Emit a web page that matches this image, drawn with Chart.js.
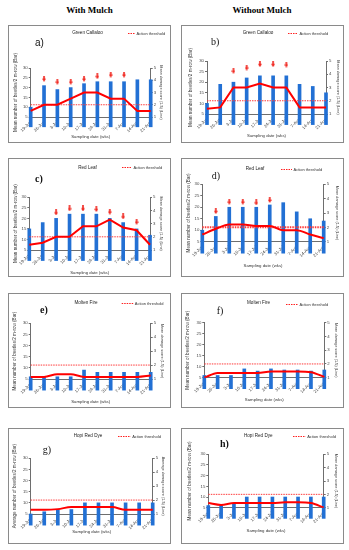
<!DOCTYPE html>
<html><head><meta charset="utf-8">
<script src="https://cdn.jsdelivr.net/npm/chart.js@4"></script>
<style>
body{margin:0;background:#fff;width:349px;height:550px;position:relative;overflow:hidden;}
.hdr{position:absolute;top:5px;width:110px;text-align:center;font:bold 9px "Liberation Serif",serif;line-height:10px;color:#000;}
.box{position:absolute;box-sizing:border-box;border:1px solid #8a8a8a;pointer-events:none;}
canvas{position:absolute;}
</style></head><body>
<div class="hdr" style="left:34.5px">With Mulch</div>
<div class="hdr" style="left:207px">Without Mulch</div>
<script>
// ---------- DATA ----------
const categories = ['19-Jun','26-Jun','3-Jul','10-Jul','17-Jul','24-Jul','31-Jul','7-Aug','14-Aug','21-Aug'];
const leftTicks = [5, 30, 5];   // min, max, step (beetles)
const rightTicks = [1, 5, 1];   // min, max, step (damage score)
const actionThreshold = 2;

// Mean number of beetles / 2 m-row (bars)
const beetlesA = [10,21,19,20,22,23,23,23,24,24];
const beetlesB = [10,19,20,22,23,23,23,19,18,15];
const beetlesC = [15,18,20,22,22,22,20,18,15,12];
const beetlesD = [10,16,20,20,20,21,22,18,15,14];
const beetlesE = [6,6,6,6,9,8,8,8,8,8];
const beetlesF = [6,6,6,9,8,9,8.5,8.5,8,8.5];
const beetlesG = [5,6,7,7,10,10,10,10,10,10];
const beetlesH = [6,6,7,10,10,10,10,10,10,10];

// Mean damage score 1-5 (lines)
const damageA = [1.5,2,2,2.5,3,3,2.5,2.5,1.5,1.5];
const damageB = [1.4,1.5,3,3,3.3,3,3,1.5,1.5,1.5];
const damageC = [1.4,1.55,2,2,2.8,2.8,3.3,2.7,2.5,1.4];
const damageD = [1.5,1.9,2.2,2.2,2.1,2.1,1.8,1.8,1.5,1.25];
const damageE = [1.15,1.15,1.35,1.35,1.15,1.15,1.15,1.15,1.15,1.25];
const damageF = [1.0,1.35,1.35,1.35,1.35,1.45,1.45,1.45,1.4,1.05];
const damageG = [1.3,1.3,1.35,1.5,1.5,1.5,1.5,1.3,1.3,1.3];
const damageH = [1.35,1.2,1.35,1.35,1.35,1.35,1.4,1.4,1.35,1.0];

// Red arrow markers (beetle-axis units)
const arrowsA = [null,24.5,23,23,24.5,25.8,26.6,26.6,null,null];
const arrowsB = [null,null,25.4,26.9,28.5,28.5,28.3,null,null,null];
const arrowsC = [null,null,22.8,24.7,24.7,24.4,23.2,20.9,18.4,null];
const arrowsD = [null,18.3,22.4,22.4,22.1,23.2,null,null,null,null];
const arrowsNone = [null,null,null,null,null,null,null,null,null,null];

const panelTitles = ['Green Callaloo','Green Callaloo','Red Leaf','Red Leaf','Molten Fire','Molten Fire','Hopi Red Dye','Hopi Red Dye'];
const panelLetters = ['a)','b)','c)','d)','e)','f)','g)','h)'];
const leftTitles = ['Mean number of beetles/2 m-row (Bar)','Mean number of beetles/2 m-row (Bar)','Mean number of beetles/2 m-row (Bar)','Mean number of beetles/2 m-row (Bar)','Mean number of beetles/2 m-row (Bar)','Mean number of beetles/2 m-row (Bar)','Average number of beetles/2 m-row (Bar)','Mean number of beetles/2 m-row (Bar)'];
const rightTitles = ['Mean damage score (1-5) (Line)','Mean damage score (1-5) (Line)','Mean damage score (1-5) (Line)','Mean damage score (1-5) (Line)','Mean damage score (1-5) (Line)','Mean damage score (1-5) (Line)','Average damage score (1-5) (Line)','Mean damage score (1-5) (Line)'];
const xTitle = 'Sampling date (wks)';
const legendLabel = 'Action threshold';

const beetles = [beetlesA,beetlesB,beetlesC,beetlesD,beetlesE,beetlesF,beetlesG,beetlesH];
const damage = [damageA,damageB,damageC,damageD,damageE,damageF,damageG,damageH];
const arrows = [arrowsA,arrowsB,arrowsC,arrowsD,arrowsNone,arrowsNone,arrowsNone,arrowsNone];

// ---------- LAYOUT (page px) ----------
const layouts = [
 {box:[8,25,163,118],  plot:[30.7,150.7,68,117],   lt:7.5, rt:10,  xt:6.3, title:[79.5,8],  leg:[120,127,8],    letter:[27,18],   lf:'10px "Liberation Sans"', smooth:false},
 {box:[181,25,163,118],plot:[207,326,61,114],      lt:9.7, rt:5.7, xt:7,   title:[77,8],    leg:[107,117,8],    letter:[30,17.5], lf:'10px "Liberation Serif"', smooth:false},
 {box:[8,158,163,119], plot:[29.3,150,197.3,250],  lt:7.7, rt:10,  xt:3.7, title:[79.5,9.3],leg:[114,124,9.3],  letter:[27,21.5], lf:'bold 10px "Liberation Serif"', smooth:false},
 {box:[181,158,163,119],plot:[202.3,323.7,184.3,241.7],lt:7.3,rt:7,xt:11,  title:[74,10.7], leg:[100,111,11],   letter:[30.7,18.7],lf:'10px "Liberation Serif"', smooth:true},
 {box:[8,293,163,115], plot:[30.7,150.7,323.3,379],lt:7,  rt:9,   xt:6,   title:[78,9.7],  leg:[113.7,125.3,9.7],letter:[32,17.7],lf:'bold 10px "Liberation Serif"', smooth:true},
 {box:[181,293,163,115],plot:[204.3,324.3,322.7,377.7],lt:6.7,rt:7.7,xt:8,title:[77.5,9.7],leg:[105,117,11.3], letter:[35.7,18], lf:'10px "Liberation Serif"', smooth:true},
 {box:[8,428,163,116], plot:[30.7,152.7,458.3,514],lt:6.3, rt:8,   xt:11.7,title:[80,7.7],  leg:[110,122.7,7.7],letter:[34.7,22], lf:'10px "Liberation Serif"', smooth:true},
 {box:[181,428,163,116],plot:[208.3,323.7,454.3,507.7],lt:9,rt:7.7,xt:13,  title:[77.3,7.7],leg:[112,124.7,7.7],letter:[39,16.7], lf:'bold 10px "Liberation Serif"', smooth:true}
];

Chart.defaults.font.family = '"Liberation Sans", Arial, sans-serif';

function makeArrow(){
  const c = document.createElement('canvas'); c.width = 4; c.height = 6;
  const g = c.getContext('2d'); g.fillStyle = '#f0251d';
  g.fillRect(1.2,0,1.6,3.2);
  g.beginPath(); g.moveTo(0,2.8); g.lineTo(4,2.8); g.lineTo(2,6); g.closePath(); g.fill();
  return c;
}
const arrowImg = makeArrow();

const annot = {
  id:'annot',
  afterDraw(chart, args, o){
    const ctx = chart.ctx; ctx.save();
    ctx.textBaseline = 'middle';
    ctx.fillStyle = '#222';
    ctx.font = '4.6px "Liberation Sans"'; ctx.textAlign = 'center';
    ctx.fillText(o.title, o.title_xy[0], o.title_xy[1]);
    const ly = Math.round(o.leg[2]) + 0.5;
    ctx.strokeStyle = '#ff2020'; ctx.lineWidth = 1; ctx.setLineDash([1.5,1]);
    ctx.beginPath(); ctx.moveTo(o.leg[0], ly); ctx.lineTo(o.leg[1], ly); ctx.stroke();
    ctx.setLineDash([]);
    ctx.font = '4px "Liberation Sans"'; ctx.textAlign = 'left'; ctx.fillStyle = '#333';
    ctx.fillText(chart.data.datasets[1].label, o.leg[1] + 1.5, ly);
    ctx.font = o.lf; ctx.fillStyle = '#111';
    ctx.fillText(o.letter, o.letter_xy[0], o.letter_xy[1]);
    ctx.restore();
  }
};

layouts.forEach((L, i) => {
  const [bx, by, bw, bh] = L.box;
  const [pl, pr, pt, pb] = L.plot;
  const cv = document.createElement('canvas');
  cv.width = bw; cv.height = bh;
  cv.style.left = bx + 'px'; cv.style.top = by + 'px';
  cv.style.width = bw + 'px'; cv.style.height = bh + 'px';
  document.body.appendChild(cv);
  const bd = document.createElement('div'); bd.className = 'box';
  bd.style.left = bx + 'px'; bd.style.top = by + 'px'; bd.style.width = bw + 'px'; bd.style.height = bh + 'px';
  document.body.appendChild(bd);

  const wL = pl - bx, wR = bx + bw - pr, hX = by + bh - pb, padTop = pt - by;
  const axisCol = '#6e6e6e';
  const tickFont = {size: 4.3};
  new Chart(cv, {
    type: 'bar',
    plugins: [annot],
    data: {
      labels: categories,
      datasets: [
        {type:'line', label:'Mean damage score', data: damage[i], yAxisID:'y1', borderColor:'#ff0000', borderWidth:2,
         pointRadius:0, tension:0, cubicInterpolationMode: L.smooth ? 'monotone' : 'default', order:0},
        {type:'line', label: legendLabel, data: categories.map(() => actionThreshold), yAxisID:'y1',
         borderColor:'#ff3a3a', borderWidth: i === 3 ? 2 : 1, borderDash:[1.5,1], pointRadius:0, order:1},
        {type:'line', label:'Arrows', data: arrows[i], yAxisID:'y', showLine:false, pointStyle: arrowImg,
         pointRadius:3, order:2},
        {type:'bar', label:'Beetles', data: beetles[i], yAxisID:'y', backgroundColor:'#2270d4',
         barThickness:3, clip:false, order:3}
      ]
    },
    options: {
      responsive:false, animation:false, events:[],
      layout:{padding:{top:padTop, left:0, right:0, bottom:0}},
      plugins:{
        legend:{display:false}, tooltip:{enabled:false},
        annot:{title: panelTitles[i], title_xy: L.title, leg: L.leg, letter: panelLetters[i], letter_xy: L.letter, lf: L.lf}
      },
      scales:{
        x:{offset:false,
           grid:{display:true, drawOnChartArea:false, offset:false, tickLength:2, color:axisCol},
           border:{display:true, color:axisCol},
           ticks:{autoSkip:false, minRotation:45, maxRotation:45, font:tickFont, color:'#444', padding:1},
           title:{display:true, text:xTitle, font:{size:4.3}, color:'#333', padding:{top:0, bottom:L.xt - 2.6}},
           afterFit(s){ s.height = hX; }},
        y:{position:'left', min:leftTicks[0], max:leftTicks[1],
           ticks:{stepSize:leftTicks[2], font:tickFont, color:'#444', padding:1},
           grid:{drawOnChartArea:false, tickLength:2, color:axisCol},
           border:{display:true, color:axisCol},
           title:{display:true, text:leftTitles[i], font:{size:4.6}, color:'#333', padding:{top:L.lt - 2.8, bottom:0}},
           afterFit(s){ s.width = wL; }},
        y1:{position:'right', min:rightTicks[0], max:rightTicks[1],
           ticks:{stepSize:rightTicks[2], font:tickFont, color:'#444', padding:1},
           grid:{drawOnChartArea:false, tickLength:2, color:axisCol},
           border:{display:true, color:axisCol},
           title:{display:true, text:rightTitles[i], font:{size:3.8}, color:'#333', padding:{top:L.rt - 2.3, bottom:0}},
           afterFit(s){ s.width = wR; }}
      }
    }
  });
});
</script>
</body></html>
